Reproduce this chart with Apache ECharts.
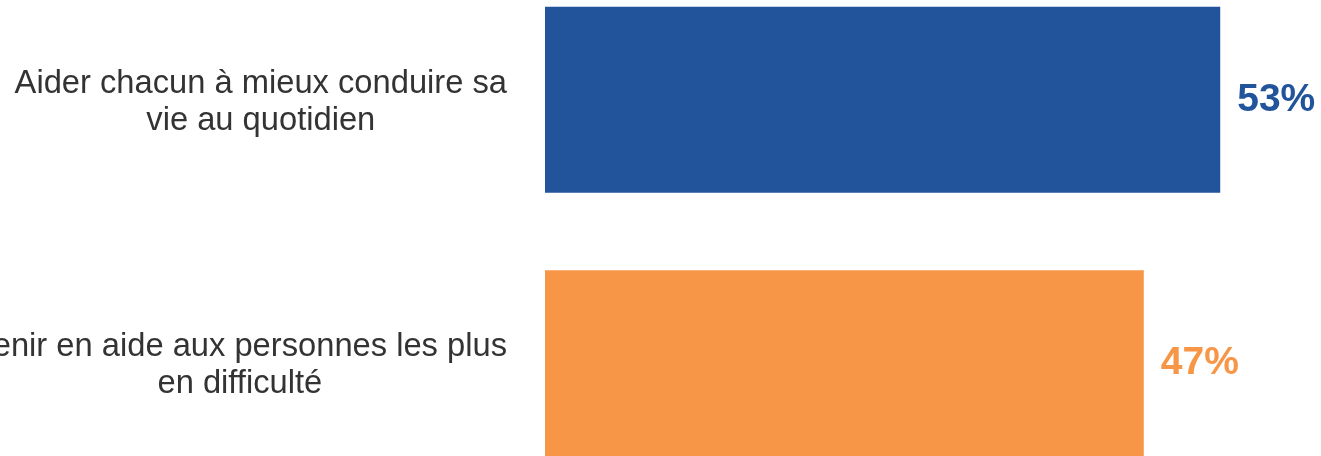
<!DOCTYPE html>
<html>
<head>
<meta charset="utf-8">
<script src="https://cdn.jsdelivr.net/npm/echarts@6/dist/echarts.min.js"></script>
<style>
html,body{margin:0;padding:0;background:#fff;}
#chart{width:1321px;height:456px;}
</style>
</head>
<body>
<div id="chart"></div>
<script>
const categories = [
  "Aider chacun à mieux conduire sa\nvie au quotidien",
  "Venir en aide aux personnes les plus\nen difficulté"
];
const values = [53, 47];
const barColors = ["#21549A", "#F79646"];

const chart = echarts.init(document.getElementById('chart'), null, {renderer: 'canvas'});
chart.setOption({
  animation: false,
  backgroundColor: '#ffffff',
  grid: {left: 545, top: -32, width: 1274, height: 527, containLabel: false, outerBoundsMode: 'none'},
  xAxis: {type: 'value', min: 0, max: 100, show: false},
  yAxis: {
    type: 'category',
    data: categories,
    inverse: true,
    axisLine: {show: false},
    axisTick: {show: false},
    splitLine: {show: false},
    axisLabel: {
      margin: 38,
      align: 'right',
      color: '#333333',
      fontFamily: 'Liberation Sans, Arial, sans-serif',
      fontSize: 32.7,
      lineHeight: 37,
      padding: [5, 0, 0, 0],
      formatter: function (v) {
        return v.split('\n').map(function (l) { return '{c|' + l + '}'; }).join('\n');
      },
      rich: {
        c: {align: 'center', color: '#333333', fontFamily: 'Liberation Sans, Arial, sans-serif', fontSize: 32.7, lineHeight: 37}
      }
    }
  },
  series: [{
    type: 'bar',
    barWidth: 186,
    data: values.map(function (v, i) {
      return {
        value: v,
        itemStyle: {color: barColors[i]},
        label: {color: barColors[i]}
      };
    }),
    label: {
      show: true,
      position: 'right',
      distance: 17,
      fontFamily: 'Liberation Sans, Arial, sans-serif',
      fontWeight: 'bold',
      fontSize: 39,
      formatter: '{c}%'
    }
  }]
});
</script>
</body>
</html>
